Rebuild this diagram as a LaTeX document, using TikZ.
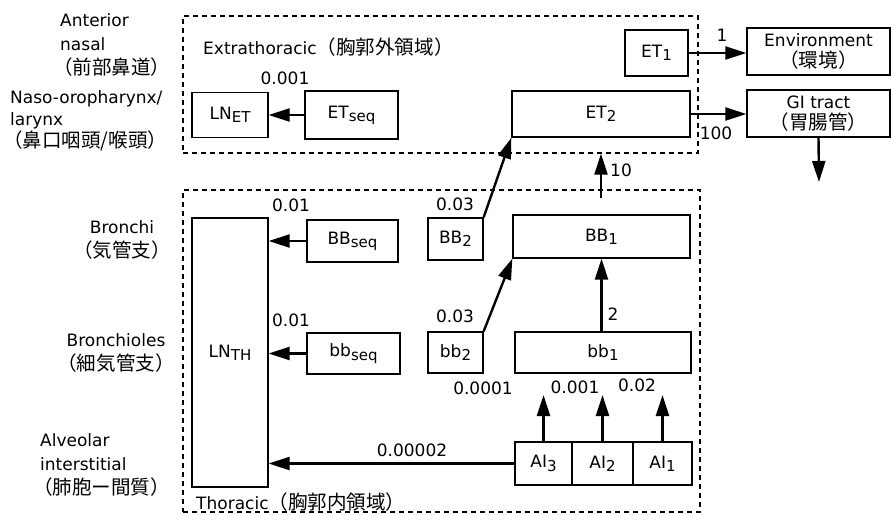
\documentclass[tikz,border=0pt]{standalone}
\usepackage{fontspec}
\setmainfont{DejaVu Sans}
\newfontfamily\jp[Scale=1.15]{Noto Sans CJK JP}
\usetikzlibrary{arrows.meta, positioning}
\newcommand\low[1]{\raisebox{-0.35ex}{\fontsize{15}{15}\selectfont #1}}
\newcommand\jt[1]{{\jp #1}}
\tikzset{
  box/.style={draw=black, line width=1.3pt, inner sep=0pt, align=center,
              font=\fontsize{17}{21}\selectfont},
  region/.style={draw=black, line width=1.3pt, dash pattern=on 5pt off 4pt, inner sep=0pt},
  fl/.style={-{Triangle[length=21pt, width=13pt]}, line width=2.4pt},
  num/.style={inner sep=0pt, font=\fontsize{17}{20}\selectfont},
  side/.style={inner sep=0pt, font=\fontsize{17}{24}\selectfont},
}

\begin{document}
\begin{tikzpicture}[x=1pt, y=-1pt]
  \useasboundingbox (0,0) rectangle (891,514);

  \node[region, minimum width=515pt, minimum height=137pt] (ext) at (440.5,84.5) {};
  \node[region, minimum width=517pt, minimum height=322pt] (tho) at (441.5,351) {};
  \node[num, anchor=west] (extlbl) at (203,47) {Extrathoracic\jt{（胸郭外領域）}};
  \node[num, anchor=west] (tholbl) at (196,502) {Thoracic\jt{（胸郭内領域）}};

  \node[side, anchor=west, align=left] (ant) at (60,45)
    {Anterior\\nasal\\\hspace*{-7pt}\jt{（前部鼻道）}};
  \node[side, anchor=west, align=left, font=\fontsize{17}{22}\selectfont] (naso) at (10,121)
    {Naso-oropharynx/\\larynx\\\hspace*{-7pt}\jt{（鼻口咽頭/喉頭）}};
  \node[side, align=center] (bronchi) at (122,240) {Bronchi\\\jt{（気管支）}};
  \node[side, align=center] (bronchioles) at (116,353) {Bronchioles\\\jt{（細気管支）}};
  \node[side, anchor=west, align=left] (alv) at (40,465)
    {Alveolar\\interstitial\\\hspace*{-7pt}\jt{（肺胞ー間質）}};

  \node[box, minimum width=76pt, minimum height=45pt] (lnet) at (230,115) {LN\low{ET}};
  \node[box, minimum width=93pt, minimum height=48pt] (etseq) at (351.5,115) {ET\low{seq}};
  \node[box, minimum width=63pt, minimum height=46pt] (et1) at (656.5,53) {ET\low{1}};
  \node[box, minimum width=178pt, minimum height=46pt] (et2) at (601,114) {ET\low{2}};
  \node[box, minimum width=143pt, minimum height=47pt] (env) at (818.5,51.5) {Environment\\\jt{（環境）}};
  \node[box, minimum width=143pt, minimum height=47pt] (gi) at (818.5,113.5) {GI tract\\\jt{（胃腸管）}};

  \node[box, minimum width=76pt, minimum height=269pt] (lnth) at (230,352.5) {LN\low{TH}};
  \node[box, minimum width=91pt, minimum height=42pt] (bbseq) at (352.5,241) {BB\low{seq}};
  \node[box, minimum width=93pt, minimum height=41pt] (bbsq) at (353.5,353.5) {bb\low{seq}};
  \node[box, minimum width=55pt, minimum height=42pt] (BBtwo) at (455.5,239) {BB\low{2}};
  \node[box, minimum width=177pt, minimum height=43pt] (BBone) at (601.5,236.5) {BB\low{1}};
  \node[box, minimum width=55pt, minimum height=41pt] (bbtwo) at (455.5,352.5) {bb\low{2}};
  \node[box, minimum width=176pt, minimum height=41pt] (bbone) at (603,352.5) {bb\low{1}};
  \node[box, minimum width=57pt, minimum height=43pt] (ai3) at (543.5,463.5) {AI\low{3}};
  \node[box, minimum width=61pt, minimum height=43pt, right=-1.3pt of ai3] (ai2) {AI\low{2}};
  \node[box, minimum width=59pt, minimum height=43pt, right=-1.3pt of ai2] (ai1) {AI\low{1}};

  \coordinate (giout) at (819,182);
  \coordinate (up10) at (601,198);
  \coordinate (aitop) at (0,395);

  \draw[fl] (etseq.west) -- (lnet.east);
  \draw[fl] (et1.east) -- (et1.east -| env.west);
  \draw[fl] (et2.east) -- (et2.east -| gi.west);
  \draw[fl] (gi.south) -- (giout);
  \draw[fl] (up10) -- (up10 |- ext.south);
  \draw[fl] (BBtwo.north east) -- (et2.south west);
  \draw[fl] (bbtwo.north east) -- (BBone.south west);
  \draw[fl] (bbone.north -| BBone) -- (BBone.south);
  \draw[fl] (bbseq.west) -- (bbseq.west -| lnth.east);
  \draw[fl] (bbsq.west) -- (bbsq.west -| lnth.east);
  \draw[fl] (ai3.west) -- (ai3.west -| lnth.east);
  \draw[fl] (ai3.north) -- (ai3.north |- aitop);
  \draw[fl] (ai2.north) -- (ai2.north |- aitop);
  \draw[fl] (ai1.north) -- (ai1.north |- aitop);

  \node[num] (n1) at (285,78) {0.001};
  \node[num] (n2) at (722,35) {1};
  \node[num] (n3) at (716,133) {100};
  \node[num] (n4) at (621,170) {10};
  \node[num] (n5) at (291,205) {0.01};
  \node[num] (n6) at (291,320) {0.01};
  \node[num] (n7) at (455,204) {0.03};
  \node[num] (n8) at (455,316) {0.03};
  \node[num] (n9) at (613,314) {2};
  \node[num] (n10) at (483,388) {0.0001};
  \node[num] (n11) at (575,387) {0.001};
  \node[num] (n12) at (637,385) {0.02};
  \node[num] (n13) at (412,450) {0.00002};
\end{tikzpicture}
\end{document}
